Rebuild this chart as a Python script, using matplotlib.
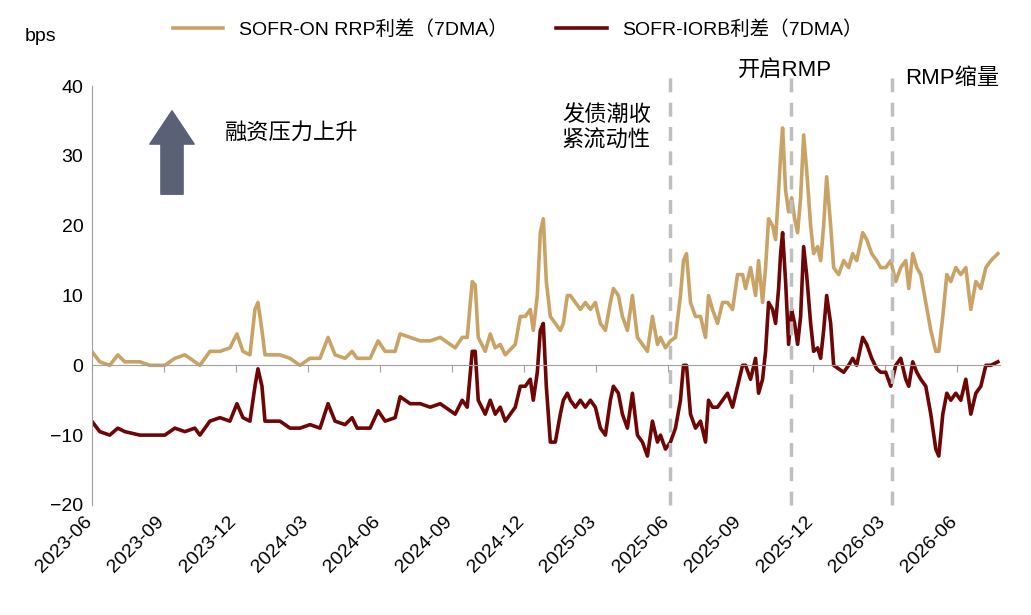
import numpy as np
import matplotlib.pyplot as plt
from matplotlib.transforms import blended_transform_factory

plt.rcParams["font.family"] = ["Liberation Sans", "Noto Sans CJK SC", "DejaVu Sans"]

# time in 1/24-month units since 2023-06
t_units = [0, 8, 18, 26, 33, 48, 58, 73, 83, 93, 103, 108, 118, 128, 138, 145, 151, 158, 163, 166,
           170, 173, 188, 198, 208, 218, 228, 236, 243, 253, 260, 265, 278, 286, 293, 303, 308, 318,
           328, 338, 348, 358, 363, 370, 375, 380, 383, 386, 393, 398, 403, 408, 413, 423, 428, 433,
           438, 441, 445, 448, 451, 454, 458, 463, 468, 471, 475, 478, 483, 488, 493, 498, 503, 508,
           513, 518, 521, 526, 530, 535, 540, 545, 550, 555, 560, 565, 568, 573, 578, 583, 588, 591,
           594, 598, 603, 608, 613, 616, 620, 625, 630, 635, 640, 645, 650, 653, 658, 663, 666, 670,
           673, 676, 680, 683, 686, 688, 690, 693, 696, 699, 702, 705, 708, 711, 714, 718, 721, 725,
           728, 731, 734, 738, 741, 746, 751, 756, 760, 764, 770, 774, 779, 784, 788, 793, 798, 803,
           808, 813, 816, 820, 824, 828, 833, 838, 843, 846, 850, 854, 858, 863, 868, 873, 878, 883,
           888, 893, 898, 905]

sofr_rrp = [2, 0.5, 0, 1.5, 0.5, 0.5, 0, 0, 1, 1.5, 0.5, 0, 2, 2, 2.5, 4.5, 2, 1.5, 8, 9,
            5, 1.5, 1.5, 1, 0, 1, 1, 4, 1.5, 1, 2, 1, 1, 3.5, 2, 2, 4.5, 4,
            3.5, 3.5, 4, 3, 2.5, 4, 4, 12, 11.5, 4, 2, 4.5, 2.5, 3, 1.5, 3, 7, 7,
            8, 5, 10, 19, 21, 12, 7, 6, 5, 6, 10, 10, 9, 8, 9, 8, 9, 6,
            5, 9, 11, 10, 7, 5, 10, 4, 3, 2, 7, 3, 4, 2.5, 3.5, 4, 10, 15,
            16, 9, 7, 7, 4, 10, 8, 6, 9, 9, 8, 13, 13, 11, 14, 10, 15, 9,
            14, 21, 20, 18, 25, 30, 34, 25, 22, 24, 21, 19, 24, 33, 28, 20, 16, 17,
            15, 20, 27, 20, 14, 13, 15, 14, 16, 15, 19, 18, 16, 15, 14, 14, 15, 12,
            14, 15, 11, 16, 14, 13, 9, 5, 2, 2, 7, 13, 12, 14, 13, 14, 8, 12,
            11, 14, 15, 16]

sofr_iorb = [-8, -9.5, -10, -9, -9.5, -10, -10, -10, -9, -9.5, -9, -10, -8, -7.5, -8, -5.5, -7.5, -8, -3, -0.5,
             -3, -8, -8, -9, -9, -8.5, -9, -5.5, -8, -8.5, -7.5, -9, -9, -6.5, -8, -7.5, -4.5, -5.5,
             -5.5, -6, -5.5, -6.5, -7, -5, -6, 2, 2, -5, -7, -5, -7, -6, -8, -6, -3, -3,
             -2, -5, -1, 5, 6, -3, -11, -11, -7, -5, -4, -5, -6, -5, -6, -5, -6, -9,
             -10, -5, -3, -4, -7, -9, -4, -10, -11, -13, -8, -11, -10, -12, -11, -9, -5, 0,
             0, -7, -9, -8, -11, -5, -6, -6, -5, -4, -6, -3, 0, 0, -2, 1, -4, -2,
             2, 9, 8, 6, 11, 16, 19, 12, 3, 8, 6, 3, 7, 17, 13, 6, 2, 2.5,
             1, 5, 10, 6, 0, -0.5, -1, 0, 1, 0, 4, 3, 1, -0.5, -1, -1, -3, 0,
             1, -2, -3, 0.5, -1, -2, -3, -7, -12, -13, -7, -4, -5, -4, -5, -2, -7, -4,
             -3, 0, 0, 0.5]

tick_labels = ["2023-06", "2023-09", "2023-12", "2024-03", "2024-06", "2024-09", "2024-12",
               "2025-03", "2025-06", "2025-09", "2025-12", "2026-03", "2026-06"]
event_months = [24.08, 29.1, 33.3]

TAN = "#C9A366"
DARK = "#6E0606"

months = np.array(t_units) / 24.0

fig = plt.figure(figsize=(10.31, 6.15), dpi=100)
ax = fig.add_axes([0.089, 0.179, 0.881, 0.681])
ax.plot(months, sofr_rrp, color=TAN, lw=2.6, label="SOFR-ON RRP利差（7DMA）")
ax.plot(months, sofr_iorb, color=DARK, lw=2.6, label="SOFR-IORB利差（7DMA）")

for m in event_months:
    ax.axvline(m, ymin=0, ymax=1.025, color="#BFBFBF", lw=2.5, ls=(0, (4, 3)), clip_on=False, zorder=3)

ax.set_xlim(0, 37.8)
ax.set_ylim(-20, 40)
ax.set_yticks(range(-20, 41, 10))
ax.tick_params(axis="y", labelsize=14, length=0, pad=6)
for s in ["top", "right"]:
    ax.spines[s].set_visible(False)
ax.spines["left"].set_color("#A0A0A0")
ax.spines["bottom"].set_position(("data", 0))
ax.spines["bottom"].set_color("#A0A0A0")
ticks = np.arange(0, 37, 3)
ax.set_xticks(ticks)
ax.tick_params(axis="x", direction="out", length=5, color="#A0A0A0", labelbottom=False)
trans = blended_transform_factory(ax.transData, ax.transAxes)
for x, lab in zip(ticks, tick_labels):
    ax.text(x + 0.15, -0.02, lab, transform=trans, rotation=45, ha="right", va="top", fontsize=14)

fig.text(0.024, 0.94, "bps", fontsize=14, va="center")
ax.legend(loc="upper left", bbox_to_anchor=(0.07, 1.2), ncol=2, frameon=False, fontsize=14,
          handlelength=2.6, columnspacing=2.5)

H = 615
ax.annotate("", xy=(172, H - 108), xycoords="figure pixels", xytext=(172, H - 197),
            arrowprops=dict(arrowstyle="simple,head_width=1.6,head_length=1.2,tail_width=0.8",
                            color="#5A6177", mutation_scale=20))
fig.text(225 / 1031, 1 - 133 / H, "融资压力上升", fontsize=16, va="center")
fig.text(562 / 1031, 1 - 128 / H, "发债潮收\n紧流动性", fontsize=16, va="center", linespacing=1.3)
fig.text(738 / 1031, 1 - 70 / H, "开启RMP", fontsize=16, va="center")
fig.text(905 / 1031, 1 - 78 / H, "RMP缩量", fontsize=16, va="center")

fig.savefig("out.png", dpi=100)
